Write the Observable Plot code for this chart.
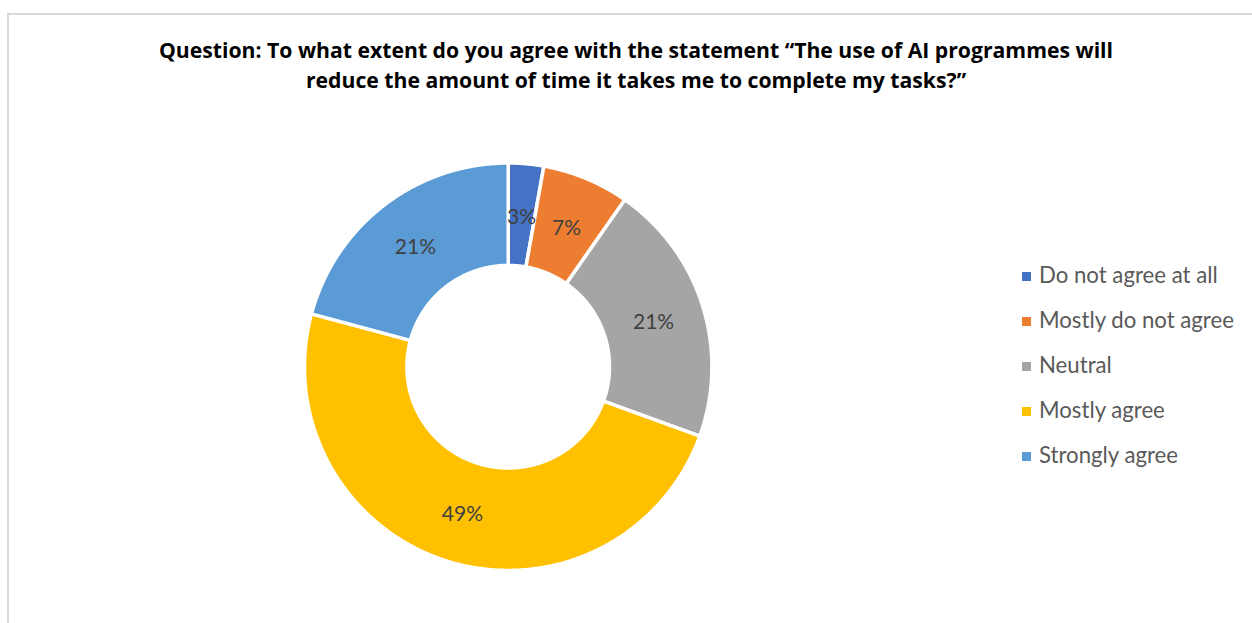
<!DOCTYPE html>
<html>
<head>
<meta charset="utf-8">
<script src="https://cdn.jsdelivr.net/npm/d3@7"></script>
<script src="https://cdn.jsdelivr.net/npm/@observablehq/plot@0.6"></script>
<style>
  html, body { margin: 0; padding: 0; background: #fff; width: 1252px; height: 623px; overflow: hidden; }
  #frame {
    position: absolute; left: 7px; top: 13px; width: 1260px; height: 620px;
    border-left: 2px solid #d9d9d9; border-top: 2px solid #d9d9d9; border-right: 2px solid #d9d9d9;
    box-sizing: border-box; background: #fff;
  }
  #title {
    position: absolute; left: 0; top: 0; width: 1254px; height: 96px;
    font-family: "Open Sans", Lato, sans-serif; font-weight: bold; font-size: 21.2px;
    color: #000; text-align: center; line-height: 30px; padding-top: 20px; box-sizing: border-box;
  }
  #chart { position: absolute; left: 0; top: 96px; }
  #legend {
    position: absolute; left: 1013px; top: 248px;
    font-family: Lato, "Open Sans", sans-serif; font-size: 22.2px; color: #595959;
  }
  .item { position: relative; height: 45px; line-height: 26px; white-space: nowrap; }
  .sw { position: absolute; left: 0; top: 9px; width: 9px; height: 9px; }
  .lab { position: absolute; left: 17px; top: -1px; }
</style>
</head>
<body>
<div id="frame">
  <div id="title"></div>
  <div id="chart"></div>
  <div id="legend"></div>
</div>
<script>
// ---- Data ----
const titleLines = [
  "Question: To what extent do you agree with the statement \u201CThe use of AI programmes will",
  "reduce the amount of time it takes me to complete my tasks?\u201D"
];
const categories = ["Do not agree at all", "Mostly do not agree", "Neutral", "Mostly agree", "Strongly agree"];
const shares = [2.8, 6.9, 20.8, 48.6, 20.8];      // percent of responses (slice sizes)
const valueLabels = ["3%", "7%", "21%", "49%", "21%"];
const colors = ["#4472C4", "#ED7D31", "#A5A5A5", "#FFC000", "#5B9BD5"];

// ---- Layout ----
const W = 1256, H = 505;
const cx = 498.7, cy = 255.2;     // donut centre in svg pixels
const rOuter = 203.7, rInner = 101.3;
const rLabel = 152.5;

document.getElementById("title").innerHTML = titleLines.join("<br>");

// Build donut slice polygons from the data
const pie = d3.pie().sort(null).value(d => d.share).startAngle(0).endAngle(2 * Math.PI);
const rows = categories.map((c, i) => ({category: c, share: shares[i], label: valueLabels[i]}));
const arcs = pie(rows);
const poly = [];
const step = Math.PI / 720;
arcs.forEach((a, i) => {
  const n = Math.max(2, Math.ceil((a.endAngle - a.startAngle) / step));
  for (let k = 0; k <= n; k++) {
    const t = a.startAngle + (a.endAngle - a.startAngle) * k / n;
    poly.push({category: a.data.category, px: rOuter * Math.sin(t), py: -rOuter * Math.cos(t)});
  }
  for (let k = n; k >= 0; k--) {
    const t = a.startAngle + (a.endAngle - a.startAngle) * k / n;
    poly.push({category: a.data.category, px: rInner * Math.sin(t), py: -rInner * Math.cos(t)});
  }
});
const labelPts = arcs.map(a => {
  const m = (a.startAngle + a.endAngle) / 2;
  return {label: a.data.label, px: rLabel * Math.sin(m), py: -rLabel * Math.cos(m)};
});

const plot = Plot.plot({
  width: W, height: H,
  margin: 0,
  style: {background: "transparent", overflow: "visible"},
  x: {type: "linear", domain: [-cx, W - cx], range: [0, W], axis: null},
  y: {type: "linear", domain: [-cy, H - cy], range: [0, H], axis: null},
  color: {domain: categories, range: colors},
  marks: [
    Plot.line(poly, {x: "px", y: "py", z: "category", fill: "category", stroke: "#ffffff", strokeWidth: 3.5, curve: "linear-closed", strokeLinejoin: "miter"}),
    Plot.text(labelPts, {x: "px", y: "py", dy: 2, text: "label", fill: "#404040", fontSize: 21, fontFamily: "Lato, 'Open Sans', sans-serif"})
  ]
});
document.getElementById("chart").appendChild(plot);

// Legend
const legend = document.getElementById("legend");
categories.forEach((c, i) => {
  const it = document.createElement("div");
  it.className = "item";
  it.innerHTML = `<span class="sw" style="background:${colors[i]}"></span><span class="lab">${c}</span>`;
  legend.appendChild(it);
});
</script>
</body>
</html>
